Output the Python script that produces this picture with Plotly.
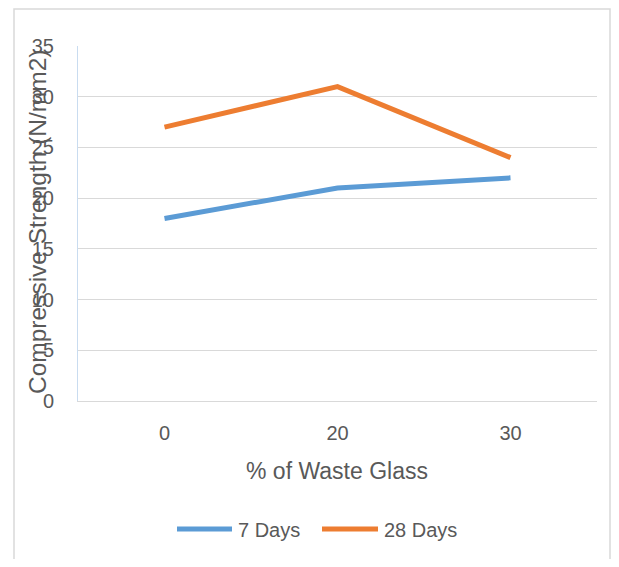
import plotly.graph_objects as go

categories = ["0", "20", "30"]
days7 = [18, 21, 22]
days28 = [27, 31, 24]
y_ticks = [0, 5, 10, 15, 20, 25, 30, 35]
series_names = ["7 Days", "28 Days"]
series_colors = ["#5b9bd5", "#ed7d31"]

# page body adds an 8px margin; keep figure inside the window (no scrollbars)
OFF = 8
W, H = 619 - 2 * OFF, 567 - 2 * OFF
L, T = 78 - OFF, 46 - OFF
pw, ph = 519, 355
R, B = W - L - pw, H - T - ph


def px_x(x):
    return (x - OFF - L) / pw


def px_y(y):
    return (T + ph - (y - OFF)) / ph


font_family = "Liberation Sans, Arial, sans-serif"
text_color = "#595959"

fig = go.Figure()
for name, vals, col in zip(series_names, [days7, days28], series_colors):
    fig.add_trace(go.Scatter(x=categories, y=vals, mode="lines", name=name,
                             line=dict(color=col, width=5)))

legend_items = [(177, 232, 236), (322, 378, 382)]
shapes = [
    dict(type="rect", xref="paper", yref="paper",
         x0=px_x(14), x1=px_x(610), y0=px_y(640), y1=px_y(9),
         line=dict(color="#d9d9d9", width=1.5), fillcolor="rgba(0,0,0,0)",
         layer="below"),
]
annotations = [
    dict(text="% of Waste Glass", xref="paper", yref="paper",
         x=px_x(337), y=px_y(471), xanchor="center", yanchor="middle",
         showarrow=False, font=dict(size=23, color=text_color)),
    dict(text="Compressive Strength (N/mm2)", xref="paper", yref="paper",
         x=px_x(37), y=px_y(222), xanchor="center", yanchor="middle",
         textangle=-90, showarrow=False,
         font=dict(size=24.5, color=text_color)),
]
for (x0, x1, tx), name, col in zip(legend_items, series_names, series_colors):
    shapes.append(dict(type="line", xref="paper", yref="paper",
                       x0=px_x(x0), x1=px_x(x1), y0=px_y(529), y1=px_y(529),
                       line=dict(color=col, width=5)))
    annotations.append(dict(text=name, xref="paper", yref="paper",
                            x=px_x(tx), y=px_y(530), xanchor="left",
                            yanchor="middle", showarrow=False,
                            font=dict(size=20, color=text_color)))

fig.update_layout(
    width=W, height=H,
    margin=dict(l=L, r=R, t=T, b=B, pad=0),
    paper_bgcolor="white", plot_bgcolor="white",
    font=dict(family=font_family, color=text_color, size=20),
    showlegend=False,
    xaxis=dict(type="category", range=[-0.5, 2.5], showgrid=False,
               showline=True, linecolor="#d9d9d9", linewidth=1,
               ticks="", tickfont=dict(size=20, color=text_color),
               ticklabelstandoff=14, zeroline=False),
    yaxis=dict(range=[0, 35], tickvals=y_ticks, showgrid=True,
               gridcolor="#d9d9d9", gridwidth=1, zeroline=False,
               showline=True, linecolor="#c9dcf0", linewidth=1,
               ticks="", tickfont=dict(size=20, color=text_color),
               ticklabelstandoff=19),
    annotations=annotations,
    shapes=shapes,
)

fig.write_html("out.html")
